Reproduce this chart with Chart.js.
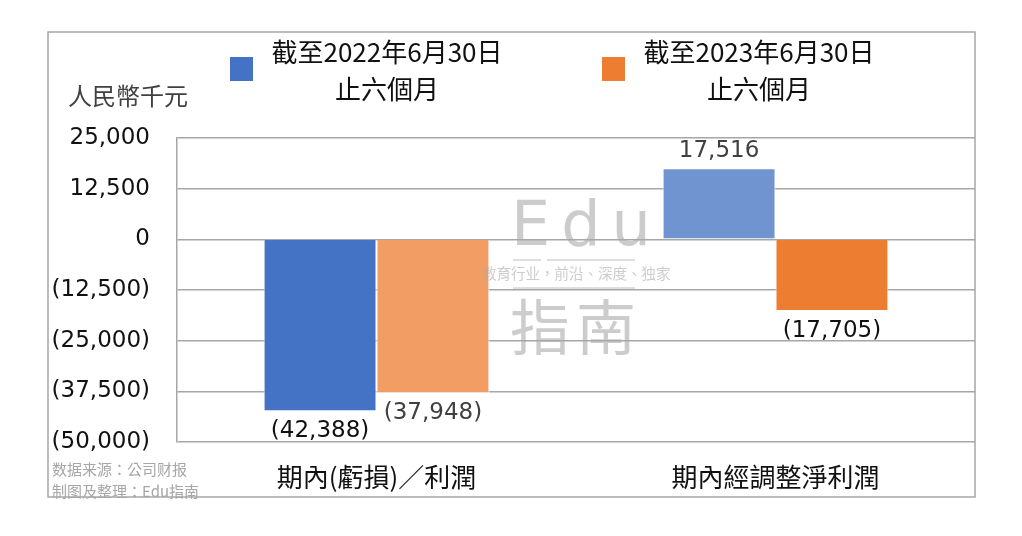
<!DOCTYPE html>
<html>
<head>
<meta charset="utf-8">
<script src="https://cdn.jsdelivr.net/npm/chart.js@4.4.0/dist/chart.umd.min.js"></script>
<style>
  body { margin: 0; background: #fff; }
  #wrap { width: 1022px; height: 536px; }
</style>
</head>
<body>
<div id="wrap"><canvas id="chart-profit" width="1022" height="536"></canvas></div>
<script>
// data
const categories = ['期內(虧損)／利潤', '期內經調整淨利潤'];
const seriesNames = [['截至2022年6月30日', '止六個月'], ['截至2023年6月30日', '止六個月']];
const values2022 = [-42388, 17516];
const values2023 = [-37948, -17705];
const yTicks = { min: -50000, max: 25000, step: 12500 };
const unitLabel = '人民幣千元';
const sourceLines = ['数据来源：公司财报', '制图及整理：Edu指南'];

const numFont = '"DejaVu Sans", sans-serif';
const cjkFont = '"Noto Sans CJK TC", "Noto Sans CJK SC", sans-serif';

function fmt(v) {
    const s = Math.abs(v).toLocaleString('en-US');
    return v < 0 ? '(' + s + ')' : s;
}

// frame, legend, unit, source text, watermark
const decorPlugin = {
    id: 'decor',
    beforeDraw(chart) {
        const c = chart.ctx;
        c.save();
        c.strokeStyle = '#a6a6a6';
        c.lineWidth = 1.5;
        c.strokeRect(48, 32, 927, 465);

        c.fillStyle = '#404040';
        c.font = '24px ' + cjkFont;
        c.textBaseline = 'middle';
        c.textAlign = 'left';
        c.fillText(unitLabel, 68, 96);

        c.fillStyle = '#a6a6a6';
        c.font = '15px ' + cjkFont;
        c.fillText(sourceLines[0], 52, 469);
        c.fillText(sourceLines[1], 52, 491);

        // legend
        const items = [
            { color: '#4472C4', box: 230, cx: 387 },
            { color: '#ED7D31', box: 602, cx: 759 }
        ];
        items.forEach(function(it, i) {
            c.fillStyle = it.color;
            c.fillRect(it.box, 57, 23, 24);
            c.fillStyle = '#111';
            c.textAlign = 'center';
            c.font = '26px ' + cjkFont;
            c.fillText(seriesNames[i][0], it.cx, 52);
            c.fillText(seriesNames[i][1], it.cx, 89);
        });
        c.restore();
    },
    afterDatasetsDraw(chart) {
        const c = chart.ctx;
        c.save();
        // data labels
        const labelColors = [['#111', '#404040'], ['#404040', '#111']];
        chart.data.datasets.forEach(function(ds, di) {
            chart.getDatasetMeta(di).data.forEach(function(bar, i) {
                const v = ds.data[i];
                c.font = '23px ' + numFont;
                c.fillStyle = labelColors[di][i];
                c.textAlign = 'center';
                c.textBaseline = 'middle';
                const y = v >= 0 ? bar.y - 17 : bar.y + 20;
                c.fillText(fmt(v), bar.x, y);
            });
        });

        // watermark
        c.fillStyle = 'rgba(170,170,170,0.6)';
        c.strokeStyle = 'rgba(170,170,170,0.5)';
        c.lineWidth = 1.5;
        c.textAlign = 'left';
        c.textBaseline = 'alphabetic';
        c.font = '62px ' + numFont;
        c.letterSpacing = '11px';
        c.fillText('Edu', 511, 245);
        c.letterSpacing = '0px';
        c.beginPath();
        c.moveTo(513, 260); c.lineTo(541, 260);
        c.moveTo(547, 260); c.lineTo(635, 260);
        c.moveTo(513, 288); c.lineTo(635, 288);
        c.stroke();
        c.font = '14.5px ' + cjkFont;
        c.textBaseline = 'middle';
        c.fillText('教育行业，前沿、深度、独家', 482, 273);
        c.font = '60px ' + cjkFont;
        c.letterSpacing = '6px';
        c.fillText('指南', 510, 327);
        c.letterSpacing = '0px';
        c.restore();
    }
};

const ctx = document.getElementById('chart-profit');
const profitChart = new Chart(ctx, {
    type: 'bar',
    data: {
        labels: categories,
        datasets: [
            {
                label: seriesNames[0].join(''),
                data: values2022,
                backgroundColor: ['#4472C4', '#7094D0'],
                borderColor: '#ffffff',
                borderWidth: 1
            },
            {
                label: seriesNames[1].join(''),
                data: values2023,
                backgroundColor: ['#F29D63', '#ED7D31'],
                borderColor: '#ffffff',
                borderWidth: 1
            }
        ]
    },
    options: {
        responsive: false,
        animation: false,
        layout: {
            padding: { top: 138, right: 47, bottom: 0, left: 0 }
        },
        categoryPercentage: 0.566,
        barPercentage: 1,
        plugins: {
            legend: { display: false },
            tooltip: { enabled: false }
        },
        scales: {
            x: {
                grid: { display: false },
                border: { display: false },
                ticks: {
                    color: '#111',
                    font: { family: cjkFont, size: 26 },
                    padding: 12
                },
                afterFit: function(scale) { scale.height = 94; }
            },
            y: {
                min: yTicks.min,
                max: yTicks.max,
                grid: { color: '#a6a6a6', lineWidth: 1.5, drawTicks: false },
                border: { display: true, color: '#a6a6a6', width: 1.5 },
                ticks: {
                    stepSize: yTicks.step,
                    color: '#111',
                    font: { family: numFont, size: 23 },
                    padding: 27,
                    callback: function(v) { return fmt(v); }
                },
                afterFit: function(scale) { scale.width = 177; }
            }
        }
    }
    ,
    plugins: [decorPlugin]
});
</script>
</body>
</html>
